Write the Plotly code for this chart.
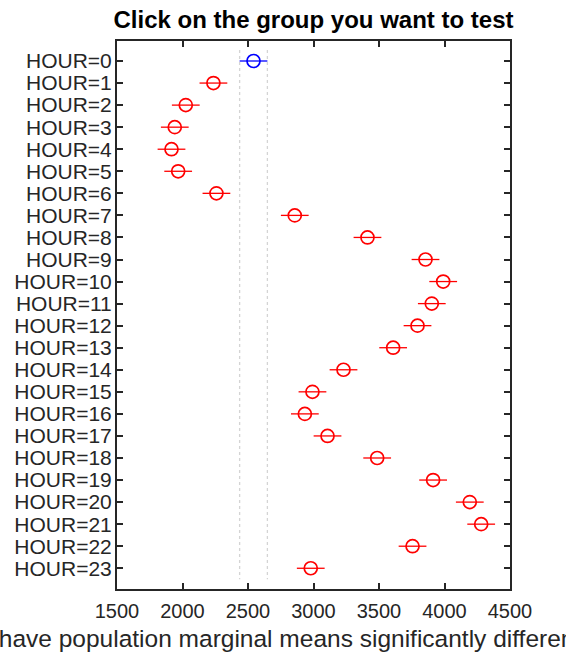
import plotly.graph_objects as go

# Population marginal means of the response for each HOUR level
groups = [f"HOUR={h}" for h in range(24)]
means = [2542, 2236, 2025, 1941, 1916, 1967, 2259, 2857, 3412, 3855,
         3990, 3903, 3794, 3608, 3229, 2992, 2934, 3107, 3486, 3913,
         4193, 4280, 3756, 2979]
ci_half = 106          # half-width of each comparison interval
selected = 0           # index of the group being tested

x_ticks = [1500, 2000, 2500, 3000, 3500, 4000, 4500]
title_text = "Click on the group you want to test"
xlabel_text = ("23 groups have population marginal means significantly "
               "different from HOUR=0")

FONT = "Liberation Sans, Arial, Helvetica, sans-serif"
AXIS_COLOR = "#262626"

idx = list(range(len(groups)))
sel_lo = means[selected] - ci_half
sel_hi = means[selected] + ci_half

fig = go.Figure()

# Dotted reference lines at the selected group's interval bounds
fig.add_trace(go.Scatter(
    x=[sel_lo, sel_lo, None, sel_hi, sel_hi],
    y=[-0.5, len(groups) - 0.5, None, -0.5, len(groups) - 0.5],
    mode="lines",
    line=dict(color="#d4d4d4", width=1.3, dash="dot"),
    hoverinfo="skip", showlegend=False,
))

others = [i for i in idx if i != selected]

# Groups significantly different from the selected one (red)
fig.add_trace(go.Scatter(
    x=[means[i] for i in others], y=others,
    mode="markers",
    marker=dict(symbol="circle-open", size=13, color="red",
                line=dict(width=1.7, color="red")),
    error_x=dict(type="data", array=[ci_half] * len(others),
                 width=0, thickness=1.3, color="red"),
    showlegend=False,
))

# Selected group (blue)
fig.add_trace(go.Scatter(
    x=[means[selected]], y=[selected],
    mode="markers",
    marker=dict(symbol="circle-open", size=13, color="blue",
                line=dict(width=1.7, color="blue")),
    error_x=dict(type="data", array=[ci_half],
                 width=0, thickness=1.3, color="blue"),
    showlegend=False,
))

W, H = 566, 659
L, R, T, B = 117, 56, 41, 70
plot_h = H - T - B

fig.update_layout(
    width=W, height=H,
    margin=dict(l=L, r=R, t=T, b=B, pad=0),
    paper_bgcolor="white", plot_bgcolor="white",
    font=dict(family=FONT, color=AXIS_COLOR, size=20),
    title=dict(text=f"<b>{title_text}</b>", x=(L + (W - L - R) / 2) / W,
               xanchor="center", xref="container",
               y=1 - 20 / H, yanchor="middle", yref="container",
               font=dict(family=FONT, size=24, color="black")),
    xaxis=dict(range=[1500, 4500], tickvals=x_ticks,
               ticktext=[str(v) for v in x_ticks],
               showgrid=False, zeroline=False,
               showline=True, linecolor=AXIS_COLOR, linewidth=2,
               mirror="ticks", ticks="inside", ticklen=6,
               tickwidth=1.5, tickcolor=AXIS_COLOR,
               tickfont=dict(size=20, color=AXIS_COLOR),
               ticklabelstandoff=3),
    yaxis=dict(range=[23.94, -0.907], tickvals=idx, ticktext=groups,
               showgrid=False, zeroline=False,
               showline=True, linecolor=AXIS_COLOR, linewidth=2,
               mirror="ticks", ticks="inside", ticklen=6,
               tickwidth=1.5, tickcolor=AXIS_COLOR,
               tickfont=dict(size=21, color=AXIS_COLOR),
               ticklabelstandoff=-1),
    annotations=[dict(
        text=xlabel_text, xref="paper", yref="paper",
        x=0.5, xanchor="center", y=-(638 - (H - B)) / plot_h,
        yanchor="middle", showarrow=False,
        font=dict(family=FONT, size=24.5, color=AXIS_COLOR),
    )],
)

fig.write_html("out.html")
